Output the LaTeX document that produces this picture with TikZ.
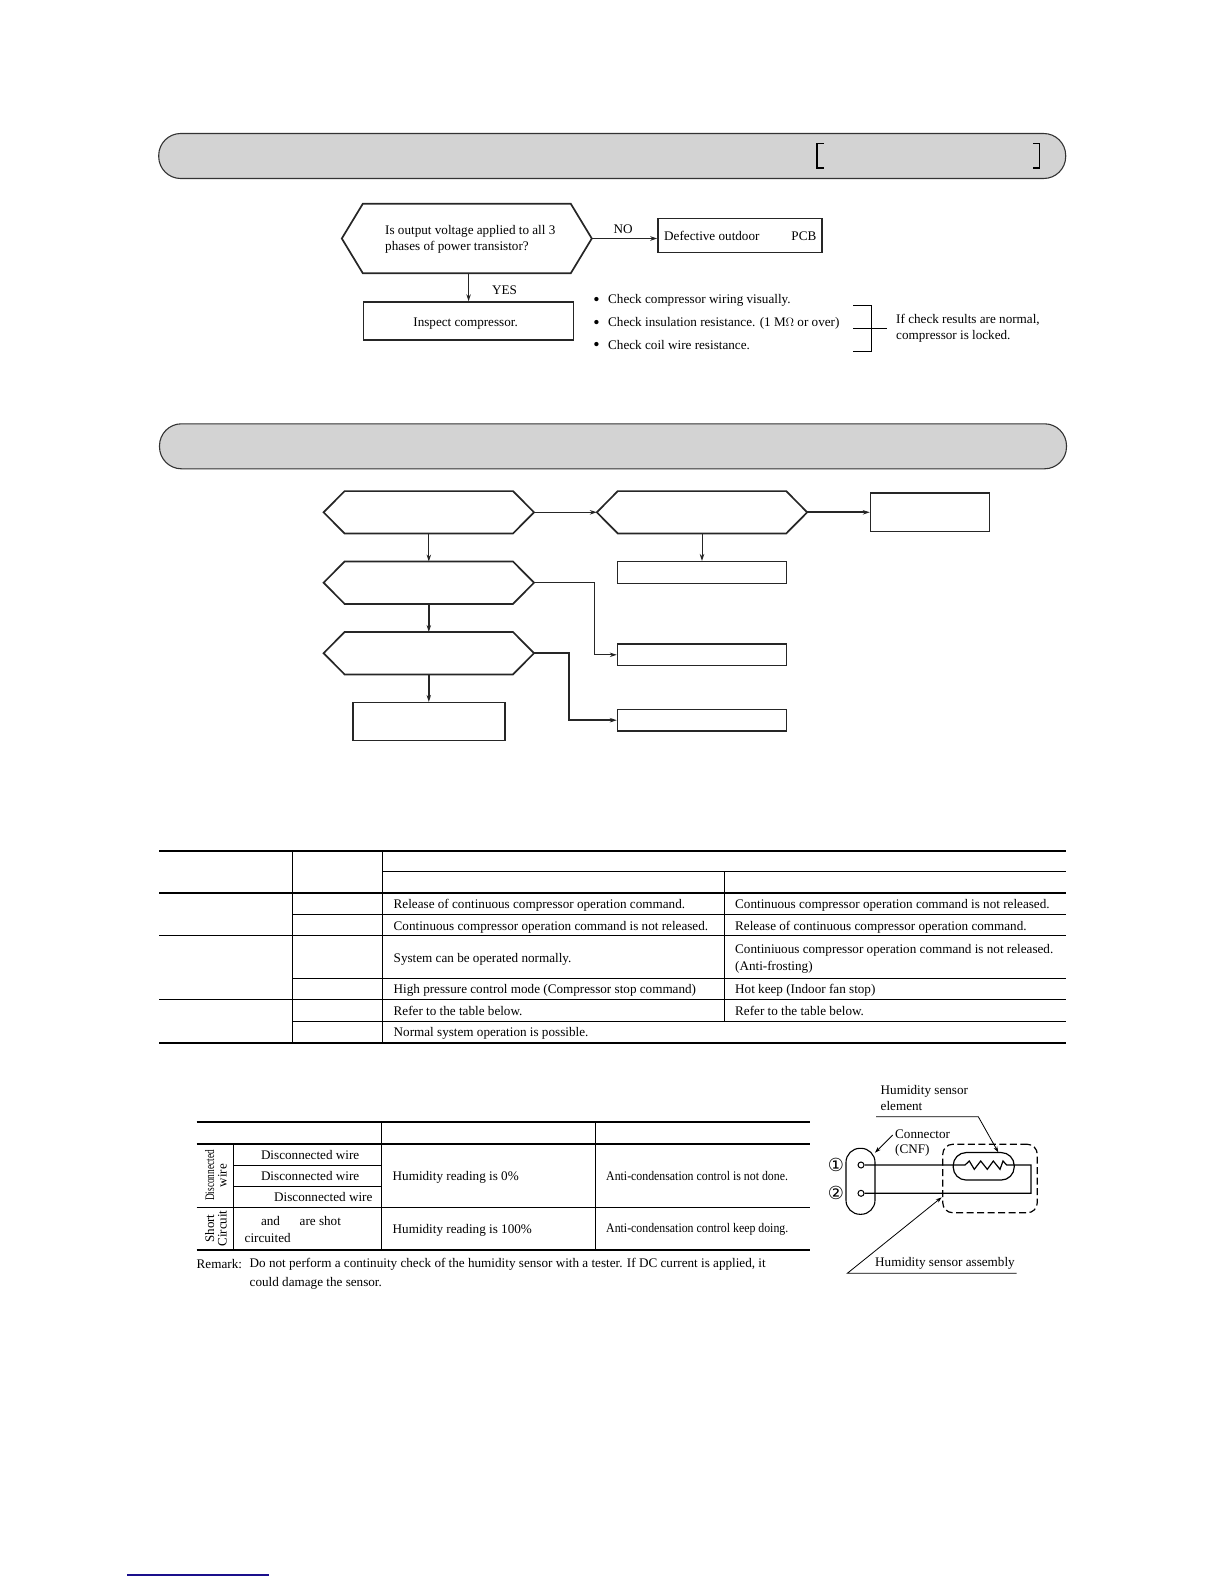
\documentclass[tikz,border=0pt]{standalone}
\usepackage{fontspec}
\usepackage{xcolor}
\usepackage{graphicx}
\usetikzlibrary{arrows.meta}
\setmainfont{Liberation Serif}
\newfontfamily\circledfont{DejaVu Sans}
\definecolor{BannerGrey}{HTML}{D3D3D3}
\definecolor{FootBlue}{HTML}{1A0F8C}
\newcommand{\drawhex}[2]{\draw[hexline] (#1.west) -- ([xshift=#2]#1.north west) -- ([xshift=-#2]#1.north east) -- (#1.east) -- ([xshift=-#2]#1.south east) -- ([xshift=#2]#1.south west) -- cycle;}
\tikzset{
  banner/.style={draw=black!80,line width=1.1pt,fill=BannerGrey,rounded corners=22pt,minimum width=907pt,minimum height=45pt,inner sep=0pt},
  flowbox/.style={draw=black!85,line width=1.5pt,inner sep=0pt,minimum width=#1},
  flowhex/.style={inner sep=0pt,minimum width=210pt,minimum height=42pt},
  hexline/.style={draw=black!85,line width=1.7pt,line join=miter},
  flowtext/.style={font=\fontsize{13.15}{15.8}\selectfont,inner sep=0pt,anchor=west,align=left},
  sidetext/.style={inner sep=0pt,rotate=90,align=center,font=\fontsize{13}{12.5}\selectfont},
  flowarrow/.style={-{Stealth[length=7pt,width=4.5pt]},line width=0.9pt,draw=black!85},
  heavyarrow/.style={-{Stealth[length=7pt,width=4.5pt]},line width=1.9pt,draw=black!85},
  thinrule/.style={line width=0.9pt},
  thickrule/.style={line width=2pt},
  pinhole/.style={circle,draw,line width=1pt,inner sep=0pt,minimum size=6pt}
}
\begin{document}
\begin{tikzpicture}[x=1pt,y=-1pt]
  \useasboundingbox (0,0) rectangle (1224,1584);

  % first header
  \node[banner] (headone) at (612.2,156) {};
  \draw[line width=1.5pt] (824,143.5) -- (817,143.5) -- (817,168) -- (824,168);
  \draw[line width=1.5pt] (1033,143.5) -- (1039.5,143.5) -- (1039.5,168) -- (1033,168);

  % power transistor check
  \node[flowhex,minimum width=249.6pt,minimum height=69pt] (hexoutput) at (466.8,238.5) {};
  \drawhex{hexoutput}{21pt}
  \node[flowbox=164pt,minimum height=34pt] (boxpcb) at (740,235.3) {};
  \node[flowbox=210pt,minimum height=38pt] (boxinspect) at (468.6,321) {};
  \node[flowtext,anchor=center] (txtinspect) at (465.6,324) {Inspect compressor.};
  \node[flowtext] (txtoutput) at (385,239.5) {Is output voltage applied to all 3\\phases of power transistor?};
  \node[flowtext] (txtdefect) at (664,236) {Defective outdoor};
  \node[flowtext,anchor=east] (txtpcb) at (816.5,236) {PCB};
  \node[flowtext,anchor=center] (txtno) at (623,229) {NO};
  \node[flowtext,anchor=center] (txtyes) at (504.5,290) {YES};
  \draw[heavyarrow,line width=1.4pt] (hexoutput.east) -- (hexoutput.east -| boxpcb.west);
  \draw[heavyarrow,line width=1.4pt] (boxinspect.north |- hexoutput.south) -- (boxinspect.north);

  \node[flowtext,anchor=center,font=\fontsize{18}{18}\selectfont] (dotone) at (596.5,301.5) {\textbullet};
  \node[flowtext,anchor=center,font=\fontsize{18}{18}\selectfont] (dottwo) at (596.5,324) {\textbullet};
  \node[flowtext,anchor=center,font=\fontsize{18}{18}\selectfont] (dotthree) at (596.5,346.5) {\textbullet};
  \node[flowtext] (chkwiring) at (608,300) {Check compressor wiring visually.};
  \node[flowtext] (chkinsul) at (608,323) {Check insulation resistance. (1 M$\Omega$ or over)};
  \node[flowtext] (chkcoil) at (608,345) {Check coil wire resistance.};
  \node[flowtext] (txtlocked) at (896,328.5) {If check results are normal,\\compressor is locked.};
  \draw[line width=1pt] (853,305) -- (871,305) -- (871,351) -- (853,351);
  \draw[line width=1pt] (853,328) -- (887,328);

  % second header
  \node[banner] (headtwo) at (613,446.3) {};

  % second flow
  \node[flowhex] (hexa) at (428.8,512.3) {};
  \node[flowhex] (hexb) at (702,512.3) {};
  \node[flowhex] (hexc) at (428.8,582.7) {};
  \node[flowhex] (hexd) at (428.8,653.2) {};
  \drawhex{hexa}{21pt}
  \drawhex{hexb}{21pt}
  \drawhex{hexc}{21pt}
  \drawhex{hexd}{21pt}
  \node[flowbox=119pt,minimum height=38.5pt] (boxa) at (930,512.3) {};
  \node[flowbox=169pt,minimum height=21.6pt] (boxb) at (702,572.5) {};
  \node[flowbox=169pt,minimum height=21.6pt] (boxc) at (702,654.8) {};
  \node[flowbox=169pt,minimum height=21.6pt] (boxd) at (702,720.2) {};
  \node[flowbox=152pt,minimum height=38pt] (boxe) at (428.8,721.7) {};
  \draw[flowarrow] (hexa.east) -- (hexb.west);
  \draw[heavyarrow] (hexb.east) -- (boxa.west);
  \draw[flowarrow] (hexb.south) -- (boxb.north);
  \draw[flowarrow] (hexa.south) -- (hexc.north);
  \draw[heavyarrow,line width=1.4pt] (hexc.south) -- (hexd.north);
  \draw[heavyarrow,line width=1.4pt] (hexd.south) -- (boxe.north);
  \draw[flowarrow] (hexc.east) -- (594.5,582.7) -- (594.5,654.8) -- (boxc.west);
  \draw[heavyarrow] (hexd.east) -- (569,653.2) -- (569,720.2) -- (boxd.west);

  % upper table
  \draw[thickrule] (159,851) -- (1066,851);
  \draw[thinrule] (382.5,871.7) -- (1066,871.7);
  \draw[thickrule] (159,892.7) -- (1066,892.7);
  \draw[thinrule] (292,914.3) -- (1066,914.3);
  \draw[thinrule] (159,935.3) -- (1066,935.3);
  \draw[thinrule] (292,978.3) -- (1066,978.3);
  \draw[thinrule] (159,999.3) -- (1066,999.3);
  \draw[thinrule] (292,1021.7) -- (1066,1021.7);
  \draw[thickrule] (159,1042.7) -- (1066,1042.7);
  \draw[thinrule] (292,851) -- (292,1042.7);
  \draw[thinrule] (382.5,851) -- (382.5,1042.7);
  \draw[thinrule] (724.5,871.7) -- (724.5,1021.7);

  \node[flowtext] (rowa) at (393.5,905.5) {Release of continuous compressor operation command.};
  \node[flowtext] (rowb) at (393.5,927) {Continuous compressor operation command is not released.};
  \node[flowtext] (rowc) at (393.5,959) {System can be operated normally.};
  \node[flowtext] (rowd) at (393.5,990.5) {High pressure control mode (Compressor stop command)};
  \node[flowtext] (rowe) at (393.5,1011.3) {Refer to the table below.};
  \node[flowtext] (rowf) at (393.5,1033.5) {Normal system operation is possible.};
  \node[flowtext] (rowg) at (735,905.5) {Continuous compressor operation command is not released.};
  \node[flowtext] (rowh) at (735,927) {Release of continuous compressor operation command.};
  \node[flowtext,font=\fontsize{13.15}{17}\selectfont] (rowi) at (735,959) {Continiuous compressor operation command is not released.\\(Anti-frosting)};
  \node[flowtext] (rowj) at (735,990.5) {Hot keep (Indoor fan stop)};
  \node[flowtext] (rowk) at (735,1011.3) {Refer to the table below.};

  % lower table
  \draw[thickrule] (196.5,1122) -- (809.5,1122);
  \draw[thickrule] (196.5,1143.7) -- (809.5,1143.7);
  \draw[thinrule] (233.3,1165.3) -- (381.7,1165.3);
  \draw[thinrule] (233.3,1186.3) -- (381.7,1186.3);
  \draw[thinrule] (196.5,1207.3) -- (809.5,1207.3);
  \draw[thickrule] (196.5,1250) -- (809.5,1250);
  \draw[thinrule] (233.3,1143.7) -- (233.3,1250);
  \draw[thinrule] (381.7,1122) -- (381.7,1250);
  \draw[thinrule] (595.5,1122) -- (595.5,1250);

  \node[sidetext] (sidedisc) at (216,1175.5) {\scalebox{0.72}[1]{Disconnected}\\wire};
  \node[sidetext] (sideshort) at (216,1228.5) {Short\\Circuit};
  \node[flowtext] (wirea) at (260.8,1154.7) {Disconnected wire};
  \node[flowtext] (wireb) at (260.8,1176) {Disconnected wire};
  \node[flowtext] (wirec) at (274,1197.3) {Disconnected wire};
  \node[flowtext] (shorta) at (260.8,1220.7) {and};
  \node[flowtext] (shortb) at (299.5,1220.7) {are shot};
  \node[flowtext] (shortc) at (244.5,1238) {circuited};
  \node[flowtext] (readzero) at (392.5,1177) {Humidity reading is 0\%};
  \node[flowtext] (readfull) at (392.5,1230.3) {Humidity reading is 100\%};
  \node[flowtext] (ctrlnot) at (606,1176) {\scalebox{0.9}[1]{Anti-condensation control is not done.}};
  \node[flowtext] (ctrlkeep) at (606,1229.3) {\scalebox{0.9}[1]{Anti-condensation control keep doing.}};
  \node[flowtext] (remark) at (196.5,1264.3) {Remark:};
  \node[flowtext,font=\fontsize{13.15}{19.2}\selectfont] (remarktxt) at (249.5,1273.8) {Do not perform a continuity check of the humidity sensor with a tester. If DC current is applied, it\\could damage the sensor.};

  % humidity sensor
  \node[draw,line width=1.1pt,rounded corners=14pt,minimum width=29pt,minimum height=66pt,inner sep=0pt] (cnf) at (860.5,1181.3) {};
  \node[pinhole] (pinone) at (861,1165) {};
  \node[pinhole] (pintwo) at (861,1193.3) {};
  \node[inner sep=0pt,font=\circledfont\fontsize{18}{18}\selectfont] (numone) at (836,1165) {①};
  \node[inner sep=0pt,font=\circledfont\fontsize{18}{18}\selectfont] (numtwo) at (836,1193.3) {②};
  \node[draw,line width=1.2pt,rounded corners=13pt,minimum width=61pt,minimum height=27.5pt,inner sep=0pt] (element) at (983.7,1166.3) {};
  \node[draw,dash pattern=on 7pt off 3.5pt,line width=1.2pt,rounded corners=10pt,minimum width=94.5pt,minimum height=68.5pt,inner sep=0pt] (assembly) at (990,1178.5) {};
  \coordinate (zigleft) at (965,1165);
  \coordinate (zigright) at (1006.7,1165);
  \coordinate (wirecorner) at (1031,1165);
  \coordinate (wirelow) at (1031,1193.3);
  \coordinate (elemtail) at (876,1116.7);
  \coordinate (elembend) at (978.3,1116.7);
  \coordinate (asmtail) at (847.3,1273.3);
  \coordinate (asmend) at (1016.7,1273.3);
  \draw[line width=1.2pt] (pinone) -- (zigleft) -- (969.3,1161) -- (974.3,1169.3) -- (980.7,1161) -- (987.3,1169.3) -- (993.3,1161) -- (1000,1169.3) -- (1003,1161) -- (zigright) -- (wirecorner) -- (wirelow) -- (pintwo);
  \draw[-{Stealth[length=6pt,width=4pt]},line width=0.8pt] (elemtail) -- (elembend) -- (998.3,1152.3);
  \coordinate (cnftail) at (892.7,1135);
  \draw[-{Stealth[length=6pt,width=4pt]},line width=0.8pt] (cnftail) -- (875,1152.7);
  \draw[-{Stealth[length=6pt,width=4pt]},line width=0.8pt] (asmend) -- (asmtail) -- (941.7,1197.3);
  \node[flowtext] (lblelement) at (880.5,1098) {Humidity sensor\\element};
  \node[flowtext] (lblcnf) at (895,1143) {Connector\\(CNF)};
  \node[flowtext] (lblasm) at (875,1263.3) {Humidity sensor assembly};

  % foot line
  \draw[FootBlue,line width=1.3pt] (127.3,1575) -- (268.7,1575);
\end{tikzpicture}
\end{document}
